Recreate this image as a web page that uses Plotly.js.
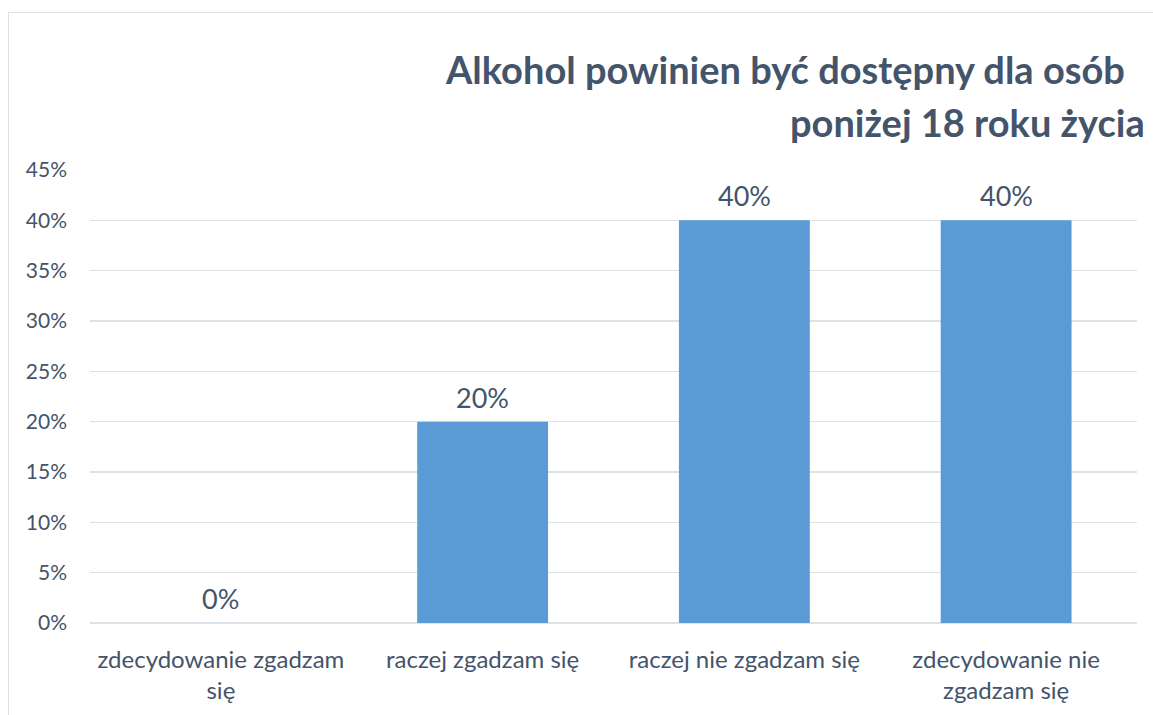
<!DOCTYPE html>
<html>
<head>
<meta charset="utf-8">
<script src="https://cdn.plot.ly/plotly-3.0.1.min.js"></script>
<style>
  html, body { margin:0; padding:0; width:1153px; height:715px; overflow:hidden; background:#fff; }
  #frame { position:absolute; left:8px; top:12px; width:1300px; height:900px; border:1px solid #dde2e8; box-sizing:border-box; }
  #chart { position:absolute; left:0; top:0; width:1153px; height:715px; }
</style>
</head>
<body>
<div id="frame"></div>
<div id="chart"></div>
<script>
const categories = ["zdecydowanie zgadzam się", "raczej zgadzam się", "raczej nie zgadzam się", "zdecydowanie nie zgadzam się"];
const tickLabels = ["zdecydowanie zgadzam<br>się", "raczej zgadzam się", "raczej nie zgadzam się", "zdecydowanie nie<br>zgadzam się"];
const values = [0, 0.20, 0.40, 0.40];
const titleLine1 = "Alkohol powinien być dostępny dla osób";
const titleLine2 = "poniżej 18 roku życia";

const textColor = "#44546a";
const font = "Lato, 'Open Sans', sans-serif";

const trace = {
  type: "bar",
  x: categories,
  y: values,
  marker: { color: "#5b9bd5" },
  width: 0.5,
  hoverinfo: "x+y"
};

const valueLabels = categories.map((c, i) => ({
  x: c, y: values[i], xref: "x", yref: "y",
  text: Math.round(values[i] * 100) + "%",
  showarrow: false, yanchor: "bottom", yshift: 6,
  font: { family: font, size: 27, color: textColor }
}));

const layout = {
  width: 1153,
  height: 715,
  margin: { l: 90, r: 16, t: 170, b: 92 },
  paper_bgcolor: "rgba(0,0,0,0)",
  plot_bgcolor: "rgba(0,0,0,0)",
  showlegend: false,
  font: { family: font, color: textColor },
  xaxis: {
    type: "category",
    tickvals: categories,
    ticktext: tickLabels,
    tickfont: { family: font, size: 24, color: textColor },
    showgrid: false,
    showline: false,
    zeroline: false,
    ticks: "",
    ticklabelstandoff: 20
  },
  yaxis: {
    range: [0, 0.45],
    dtick: 0.05,
    tickformat: ".0%",
    tickfont: { family: font, size: 21, color: textColor },
    gridcolor: "#dde2e8",
    gridwidth: 1.5,
    zeroline: true,
    zerolinecolor: "#dde2e8",
    zerolinewidth: 1.5,
    showline: false,
    ticks: "",
    ticklabelstandoff: 22
  },
  annotations: valueLabels.concat([
    { text: "<b>" + titleLine1 + "</b>", xref: "paper", yref: "paper",
      x: (443 - 90) / 1047, y: 1 + (170 - 69) / 453, xanchor: "left", yanchor: "middle",
      showarrow: false, font: { family: font, size: 38, color: textColor } },
    { text: "<b>" + titleLine2 + "</b>", xref: "paper", yref: "paper",
      x: (788 - 90) / 1047, y: 1 + (170 - 122) / 453, xanchor: "left", yanchor: "middle",
      showarrow: false, font: { family: font, size: 38, color: textColor } }
  ])
};

Plotly.newPlot("chart", [trace], layout, { displayModeBar: false, staticPlot: true });
</script>
</body>
</html>
